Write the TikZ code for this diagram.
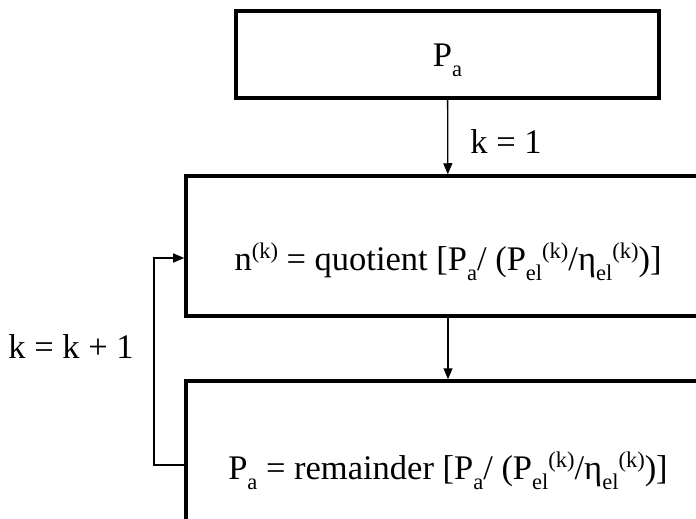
\documentclass[tikz,border=0pt]{standalone}
\usepackage{fontspec}
\setmainfont{Liberation Serif}
\usetikzlibrary{arrows.meta}
\newcommand{\subtx}[1]{\raisebox{-0.3em}{\fontsize{22.5bp}{22bp}\selectfont #1}}
\newcommand{\suptx}[1]{\raisebox{0.33em}{\fontsize{22.5bp}{22bp}\selectfont #1}}

\begin{document}
\begin{tikzpicture}[x=1bp,y=-1bp,font=\fontsize{34.5bp}{40bp}\selectfont,
  box/.style={draw,line width=3.5bp,inner sep=0pt,align=center,text depth=0pt},
  ar/.style={-{Triangle[length=11bp,width=9bp]},line width=1.3bp}]
  \clip (0,0) rectangle (696,519);
  % boxes, pixel coordinates of the reference (y down)
  \node[box,minimum width=423bp,minimum height=87bp,text height=24bp] (pa) at (447.5,54.5) {P\subtx{a}};
  \node[box,minimum width=524bp,minimum height=140bp,text height=48bp] (quot) at (448,246)
       {n\suptx{(k)} = quotient [P\subtx{a}/ (P\subtx{el}\suptx{(k)}/η\subtx{el}\suptx{(k)})]};
  \node[box,minimum width=524bp,minimum height=144bp,text height=52bp] (rem) at (448,453)
       {P\subtx{a} = remainder [P\subtx{a}/ (P\subtx{el}\suptx{(k)}/η\subtx{el}\suptx{(k)})]};
  % straight arrows down
  \draw[ar] (pa) -- (quot);
  \draw[ar] (quot) -- (rem);
  % loop back on the left
  \coordinate (back) at (154,360);
  \draw[ar] ([yshift=-12bp]rem.west) -| (back) |- ([yshift=-12bp]quot.west);
  \node (kone) at (506,142) {k = 1};
  \node (kinc) at (71,347) {k = k + 1};
\end{tikzpicture}
\end{document}
